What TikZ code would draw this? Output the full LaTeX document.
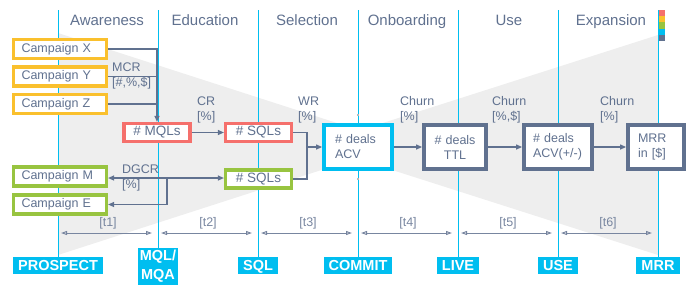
\documentclass[tikz,border=0pt]{standalone}
\usepackage{fontspec}
\setmainfont{Liberation Sans}
\usetikzlibrary{arrows.meta}
\definecolor{slate}{RGB}{96,113,143}
\definecolor{skyline}{RGB}{0,190,240}
\definecolor{amber}{RGB}{250,192,45}
\definecolor{coral}{RGB}{245,112,108}
\definecolor{leaf}{RGB}{152,196,64}
\definecolor{funnelgray}{RGB}{238,238,238}

\begin{document}
\begin{tikzpicture}[
  x=1pt, y=-1pt,
  font=\fontsize{12.5}{15}\selectfont,
  phase/.style={text=slate, font=\fontsize{15}{17}\selectfont, anchor=base},
  campaign/.style={rectangle, draw=#1, line width=3.2pt, fill=white, text=slate, align=left,
                   text width=77pt, inner xsep=8pt, inner ysep=0pt, minimum height=19pt},
  lead/.style={rectangle, draw=#1, line width=3.2pt, fill=white, text=slate,
               font=\fontsize{13.5}{15}\selectfont,
               minimum width=66pt, minimum height=18pt, inner sep=0pt},
  deal/.style={rectangle, draw=#1, line width=3.8pt, fill=white, text=slate, align=left,
               minimum height=44pt, inner ysep=0pt},
  stage/.style={fill=skyline, text=white, font=\fontsize{14.5}{19}\selectfont\bfseries,
                anchor=north, inner xsep=5pt, inner ysep=3pt, text height=10.5pt, text depth=0pt},
  stagepair/.style={fill=skyline, text=white, font=\fontsize{14.5}{19}\selectfont\bfseries,
                    anchor=north, align=center, inner xsep=1.5pt, inner ysep=2pt},
  rate/.style={text=slate, align=left, anchor=west, inner sep=0pt},
  guide/.style={draw=skyline, line width=0.9pt},
  link/.style={draw=slate, line width=1.2pt},
  arr/.style={link, -{Triangle[length=6pt, width=5pt]}},
  lapse/.style={draw=slate!85, line width=1pt,
                {Triangle[open, length=6pt, width=4pt]}-{Triangle[open, length=6pt, width=4pt]}}
]
\useasboundingbox (0,0) rectangle (691,285);
% funnel in the background
\fill[funnelgray] (58,33) -- (402,144) -- (58,255) -- cycle;
\fill[funnelgray] (658,35) -- (314,145) -- (658,255) -- cycle;
% phases along the top
\node[phase] (awareness)  at (107,25) {Awareness};
\node[phase] (education)  at (205,25) {Education};
\node[phase] (selection)  at (307,25) {Selection};
\node[phase] (onboarding) at (407,25) {Onboarding};
\node[phase] (usephase)   at (509,25) {Use};
\node[phase] (expansion)  at (611,25) {Expansion};
% stage markers along the bottom and their guide lines
\node[stage]     (prospect) at (58,257)  {PROSPECT};
\node[stagepair] (mql)      at (158,248) {MQL/\\MQA};
\node[stage]     (sql)      at (258,257) {SQL};
\node[stage]     (commit)   at (358,257) {COMMIT};
\node[stage]     (live)     at (458,257) {LIVE};
\node[stage]     (use)      at (558,257) {USE};
\node[stage]     (mrr)      at (658,257) {MRR};
\coordinate (guidetop) at (0,10);
\foreach \n in {prospect, mql, sql, commit, live, use, mrr}
  \draw[guide] (\n.north) -- (\n.north |- guidetop);
\fill[gray!55] (357,114) rectangle (359,116);
\fill[gray!55] (357,178) rectangle (359,180);
% colour key
\foreach \c [count=\i from 0] in {coral, amber, leaf, skyline, slate}
  \fill[\c] (659,{10+6.2*\i}) rectangle ++(6,6.2);
% campaigns
\node[campaign=amber] (campX) at (60,49)    {Campaign X};
\node[campaign=amber] (campY) at (60,76.5)  {Campaign Y};
\node[campaign=amber] (campZ) at (60,104)   {Campaign Z};
\node[campaign=leaf]  (campM) at (60,176.5) {Campaign M};
\node[campaign=leaf]  (campE) at (60,204.5) {Campaign E};
% leads
\node[lead=coral] (mqls)      at (157,132.5) {\# MQLs};
\node[lead=coral] (sqlsred)   at (258.5,132.5) {\# SQLs};
\node[lead=leaf]  (sqlsgreen) at (258.5,179) {\# SQLs};
% deals
\node[deal=skyline, text width=46pt, inner xsep=11pt] (acv) at (358,147) {\# deals\\ACV};
\node[deal=slate, align=center, text width=44pt, inner xsep=9pt] (ttl) at (455,147) {\# deals\\TTL};
\node[deal=slate, text width=50pt, inner xsep=9pt] (acvpm) at (558,147) {\# deals\\ACV(+/-)};
\node[deal=slate, text width=36pt, inner xsep=10pt] (mrrbox) at (656,147) {MRR\\in [\$]};
% flows
\draw[arr]  (campX.east) -| (mqls.north);
\draw[link] (campY.east) -- (campY.east -| mqls.north);
\draw[link] (campZ.east) -- (campZ.east -| mqls.north);
\draw[arr]  (mqls) -- (sqlsred);
\coordinate (wrjoin) at (307,147);
\draw[link] (sqlsred.east) -| (wrjoin);
\draw[link] (sqlsgreen.east) -| (wrjoin);
\draw[arr]  (wrjoin) -- (acv.west);
\coordinate (dgcrjoin) at (167,178);
\draw[arr] (dgcrjoin) -- (dgcrjoin -| campM.east);
\draw[arr] (dgcrjoin) -- (dgcrjoin -| sqlsgreen.west);
\draw[arr] (dgcrjoin) |- (campE.east);
\draw[arr] (acv) -- (ttl);
\draw[arr] (ttl) -- (acvpm);
\draw[arr] (acvpm) -- (mrrbox);
% rates
\node[rate] (mcr)    at (112,76)  {MCR\\{}[\#,\%,\$]};
\node[rate] (cr)     at (197,110) {CR\\{}[\%]};
\node[rate] (wr)     at (298,110) {WR\\{}[\%]};
\node[rate] (dgcr)   at (122,178) {DGCR\\{}[\%]};
\node[rate] (churnA) at (400,110) {Churn\\{}[\%]};
\node[rate] (churnB) at (492,110) {Churn\\{}[\%,\$]};
\node[rate] (churnC) at (600,110) {Churn\\{}[\%]};
% durations between stages
\foreach \x [count=\i] in {58,158,258,358,458,558} {
  \draw[lapse] (\x+3,233) -- (\x+94,233);
  \node[text=slate!85] (t\i) at (\x+50,223) {[t\i]};
}
\end{tikzpicture}
\end{document}
